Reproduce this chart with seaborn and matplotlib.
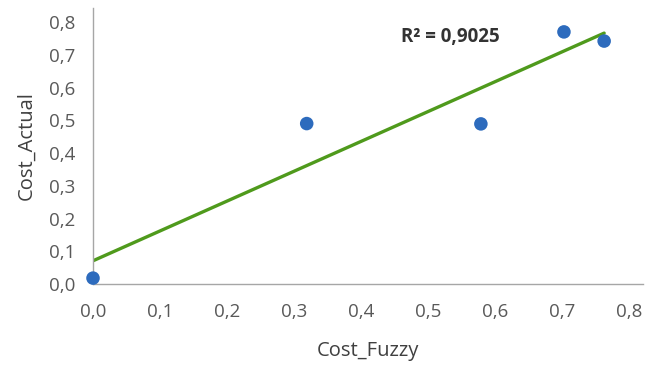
import matplotlib
matplotlib.use("Agg")
import matplotlib.pyplot as plt
import seaborn as sns
import pandas as pd
from matplotlib.ticker import FuncFormatter

cost_fuzzy = [0.0, 0.319, 0.579, 0.703, 0.763]
cost_actual = [0.018, 0.490, 0.489, 0.770, 0.742]
r2_label = "R² = 0,9025"

df = pd.DataFrame({"Cost_Fuzzy": cost_fuzzy, "Cost_Actual": cost_actual})

sns.set_style("white")
plt.rcParams["font.family"] = ["Open Sans", "DejaVu Sans"]

fig = plt.figure(figsize=(6.59, 3.65), dpi=100)
ax = fig.add_axes([93/659, 81/365, 550/659, 276/365])

sns.regplot(data=df, x="Cost_Fuzzy", y="Cost_Actual", ax=ax, ci=None, truncate=True,
            scatter_kws=dict(s=95, color="#2d6bbd", alpha=1, edgecolor="none", zorder=3, clip_on=False),
            line_kws=dict(color="#4f9a1c", lw=2.4, zorder=2))

ax.set_xlim(0, 0.821)
ax.set_ylim(0, 0.843)
fmt = FuncFormatter(lambda v, p: f"{v:.1f}".replace(".", ","))
ax.xaxis.set_major_formatter(fmt)
ax.yaxis.set_major_formatter(fmt)
ax.set_xticks([i/10 for i in range(9)])
ax.set_yticks([i/10 for i in range(9)])
ax.tick_params(axis="both", length=0, labelsize=13.5, labelcolor="#595959")
ax.tick_params(axis="y", pad=13)
ax.tick_params(axis="x", pad=14)

for s in ["top", "right"]:
    ax.spines[s].set_visible(False)
for s in ["left", "bottom"]:
    ax.spines[s].set_color("#a6a6a6")
    ax.spines[s].set_linewidth(1.0)

ax.set_xlabel("Cost_Fuzzy", fontsize=14.5, color="#404040", labelpad=14)
ax.set_ylabel("Cost_Actual", fontsize=14.5, color="#404040", labelpad=9)

ax.text(0.534, 0.755, r2_label, fontsize=13.5, fontweight="bold", color="#333333",
        ha="center", va="center")

fig.savefig("out.png", dpi=100)
